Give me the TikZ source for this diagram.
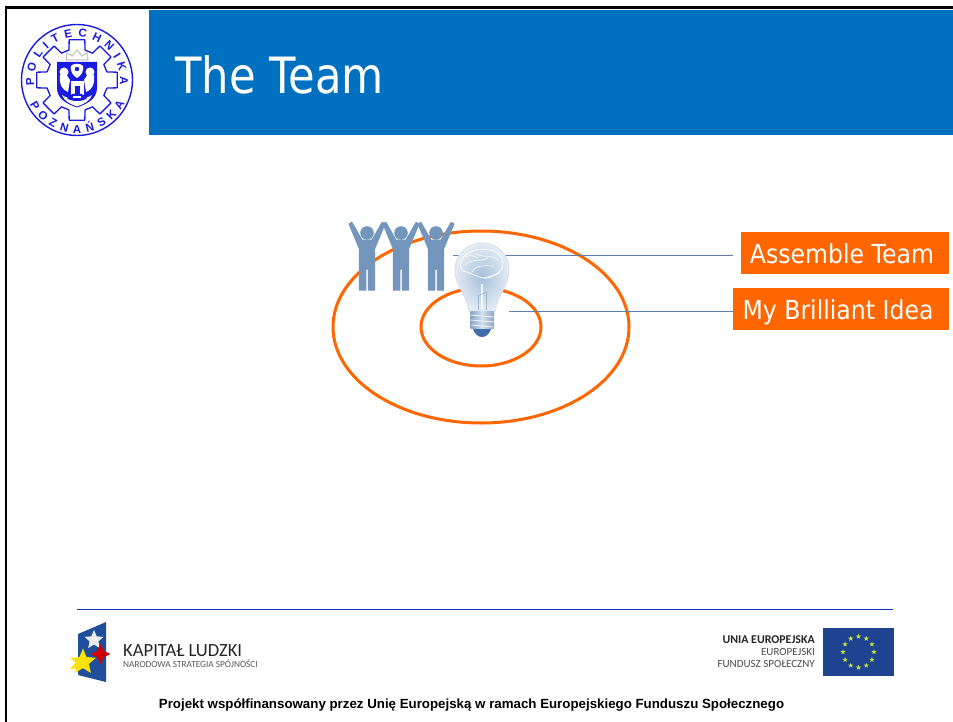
\documentclass[tikz,border=0pt]{standalone}
\usepackage{fontspec}
\setmainfont{Liberation Sans}
\newfontfamily\tahomafont{DejaVu Sans}[FakeStretch=0.866]
\newfontfamily\labelfont{DejaVu Sans}[FakeStretch=0.9]
\newfontfamily\humanfont{Carlito}
\usetikzlibrary{shapes.geometric,decorations.text,calc}
\definecolor{hdrblue}{HTML}{0070C0}
\definecolor{ringor}{HTML}{FF6600}
\definecolor{peopleblue}{HTML}{7596BC}
\definecolor{leadblue}{HTML}{5B7FB0}
\definecolor{logoblue}{HTML}{1A1AE0}
\definecolor{rulenavy}{HTML}{1035C8}
\definecolor{euflag}{HTML}{1D4391}
\definecolor{kapblue}{HTML}{1F4E9C}
\definecolor{glass}{HTML}{A6BFDA}
\definecolor{starlime}{HTML}{C8E040}
\tikzset{
  labelbox/.style={fill=ringor,text=white,inner sep=0pt,font=\labelfont\fontsize{26.2}{30}\selectfont,text height=23pt,text depth=3pt},
  ring/.style={draw=ringor,line width=3pt},
  leader/.style={draw=leadblue,line width=0.9pt},
  euro/.style={star,star points=5,star point ratio=2.4,fill=starlime,inner sep=0pt,minimum size=5.5pt},
  person/.pic={
    \fill[peopleblue] (0,0) circle (6.8);
    \filldraw[peopleblue,line width=1.3pt,line join=round]
      (-17.8,-9) -- (-15.2,-10.5) -- (-5,7.4) -- (5,7.4) -- (15.2,-10.5) -- (17.8,-9)
      -- (7.4,16) -- (7.4,57) -- (1.4,57) -- (1.4,36) -- (-1.4,36) -- (-1.4,57) -- (-7.4,57) -- (-7.4,16) -- cycle;
  },
  every node/.style={inner sep=0pt}
}
\begin{document}
\begin{tikzpicture}[x=1pt,y=-1pt]
\useasboundingbox (0,0) rectangle (953,722);
\fill[white] (0,0) rectangle (953,722);
% frame
\fill[black] (5,6.5) rectangle (953,9.5);
\fill[black] (5,6.5) rectangle (7,722);
% header
\fill[hdrblue] (149,10) rectangle (953,135);
\node[anchor=west,text=white,font=\tahomafont\fontsize{50}{56}\selectfont] (title) at (175,75) {The Team};
% university logo
\begin{scope}[shift={(77,80)},y=1pt]
\draw[logoblue,line width=1.4pt] (0,0) circle (55.5);
\draw[logoblue,line width=1.3pt,line join=round]
  \foreach \a in {0,45,...,315}{
    (\a-15:31) -- (\a-11:41) -- (\a+11:41) -- (\a+15:31) -- (\a+30:31)
  };
\path[decorate,decoration={text along path,text align={fit to path},
  text={|\color{logoblue}\bfseries\fontsize{11.5}{12}\selectfont|POLITECHNIKA}}]
  (187:43) arc[start angle=187,end angle=-7,radius=43];
\path[decorate,decoration={text along path,text align={fit to path},
  text={|\color{logoblue}\bfseries\fontsize{11.5}{12}\selectfont|POZNAŃSKA}}]
  (207:53) arc[start angle=207,end angle=334,radius=53];
\end{scope}
% coat of arms
\fill[logoblue] (57,62) -- (97,62) -- (97,88) .. controls (97,99) and (87,104) .. (77,107.5) .. controls (67,104) and (57,99) .. (57,88) -- cycle;
\draw[gray!45,line width=1.2pt] (66,60) -- (67,53) -- (72,56) -- (77,50) -- (82,56) -- (87,53) -- (88,60) -- cycle;
\fill[white] (64,72) circle (4.5) (90,72) circle (4.5);
\fill[white] (60,75) .. controls (59,84) and (62,90) .. (68,92) -- (70,80) -- (66,74) -- cycle;
\fill[white] (94,75) .. controls (95,84) and (92,90) .. (86,92) -- (84,80) -- (88,74) -- cycle;
\fill[white] (71,66) .. controls (73,63) and (81,63) .. (83,66) .. controls (84,71) and (81,76) .. (77,78) .. controls (73,76) and (70,71) .. (71,66) -- cycle;
\fill[logoblue] (77,69) circle (2.2);
\fill[white] (70.5,81) rectangle (83.5,95);
\fill[logoblue] (74.5,86) rectangle (79.5,95);
\fill[white] (62,95) .. controls (68,100) and (86,100) .. (92,95) .. controls (90,101) and (84,104) .. (77,106.5) .. controls (70,104) and (64,101) .. (62,95) -- cycle;
\fill[logoblue] (67,98) .. controls (70,92) and (84,92) .. (87,98) .. controls (84,102) and (70,102) .. (67,98) -- cycle;
\fill[white] (73,96) rectangle (81,98);
% rings
\node[ellipse,minimum width=296pt,minimum height=192pt,ring] (outer) at (481,327) {};
\node[ellipse,minimum width=120pt,minimum height=78pt,ring] (inner) at (481,327) {};
% labels
\node[labelbox,minimum width=208pt,minimum height=42pt] (team) at (845,253) {Assemble Team\hspace{6pt}\null};
\node[labelbox,minimum width=216pt,minimum height=42pt] (idea) at (841,309) {My Brilliant Idea\hspace{6pt}\null};
\coordinate (teamend) at (453,255);
\coordinate (ideaend) at (509,311);
\draw[leader] (teamend) -- (idea.west |- teamend);
\draw[leader] (ideaend) -- (idea.west |- ideaend);
% people
\pic at (367,233) {person};
\pic at (401,233) {person};
\pic at (436,233) {person};
% bulb
\path[inner color=glass,outer color=glass!30!white,draw=glass!45!white,line width=1pt]
  (482,243) .. controls (498,243) and (509,255) .. (509,270)
  .. controls (509,285) and (497,296) .. (495,311)
  -- (469,311)
  .. controls (467,296) and (455,285) .. (455,270)
  .. controls (455,255) and (466,243) .. (482,243) -- cycle;
\draw[white,line width=0.9pt,line join=round,opacity=.85] (461,262) .. controls (465,250) and (480,248) .. (490,250) .. controls (500,252) and (505,260) .. (502,268) .. controls (499,274) and (490,279) .. (484,278) .. controls (476,277) and (470,272) .. (463,271) .. controls (460,268) and (460,264) .. (461,262);
\draw[white,line width=0.7pt,opacity=.85] (465,265) .. controls (472,258) and (480,262) .. (488,258) (472,272) .. controls (476,264) and (486,266) .. (494,266) (476,254) .. controls (484,258) and (490,254) .. (498,260) (484,278) -- (500,273) (466,257) .. controls (470,254) and (474,256) .. (478,258);
\draw[white,line width=2.2pt,opacity=.8] (482,284) -- (482,309);
\draw[peopleblue!70,line width=0.7pt] (478,296) -- (478,310) (486,292) -- (486,310);
\draw[peopleblue!70,line width=0.7pt] (477,296) -- (487,292);
\shade[left color=peopleblue!90,right color=peopleblue!85,middle color=glass!50,rounded corners=1pt] (470,311) rectangle (494,329);
\draw[white,line width=0.9pt,opacity=.8] (470,315) -- (494,317) (470,320) -- (494,322) (471,325) -- (493,327);
\fill[kapblue!60!peopleblue] (473,329) -- (491,329) .. controls (489,335) and (485,337) .. (482,337) .. controls (479,337) and (475,335) .. (473,329) -- cycle;
% footer rule
\coordinate (ruleL) at (77,609.5);
\coordinate (ruleR) at (893,609.5);
\draw[rulenavy,line width=1pt] (ruleL) -- (ruleR);
% Kapital Ludzki logo
\fill[kapblue] (78,634) -- (106,622) -- (106,682) -- (78,675) -- cycle;
\node[star,star points=5,star point ratio=2.2,fill=white!85!gray,minimum size=20pt] (wstar) at (94,640) {};
\node[star,star points=4,star point ratio=2.2,fill=red!80!black,minimum size=20pt] (rstar) at (100.5,654) {};
\fill[yellow!85!orange] (70,669) -- (81,657) -- (86,668) -- cycle;
\node[star,star points=5,star point ratio=2.2,fill=yellow!85!orange,minimum size=27pt] (ystar) at (83,662) {};
\node[anchor=west,font=\humanfont\fontsize{18.6}{20}\selectfont,text=black!85] (kap) at (123,651) {KAPITAŁ LUDZKI};
\node[anchor=west,font=\humanfont\fontsize{9.3}{10}\selectfont,text=black!65] (nar) at (123,664) {NARODOWA STRATEGIA SPÓJNOŚCI};
% EU block
\node[anchor=east,font=\humanfont\bfseries\fontsize{11.9}{12}\selectfont,text=black!85] (unia) at (815,640) {UNIA EUROPEJSKA};
\node[anchor=east,font=\humanfont\fontsize{11}{12}\selectfont,text=black!70] (europ) at (815,652) {EUROPEJSKI};
\node[anchor=east,font=\humanfont\fontsize{11}{12}\selectfont,text=black!70] (fund) at (815,664) {FUNDUSZ SPOŁECZNY};
\fill[euflag] (823,628) rectangle (894,676);
\foreach \a in {0,30,...,330}{
  \node[euro] at ($(858.5,652)+(\a:15.5)$) {};
}
% footer text
\node[font=\bfseries\fontsize{13.3}{14}\selectfont,text=black] (foot) at (471.5,705.5) {Projekt współfinansowany przez Unię Europejską w ramach Europejskiego Funduszu Społecznego};
\end{tikzpicture}
\end{document}
